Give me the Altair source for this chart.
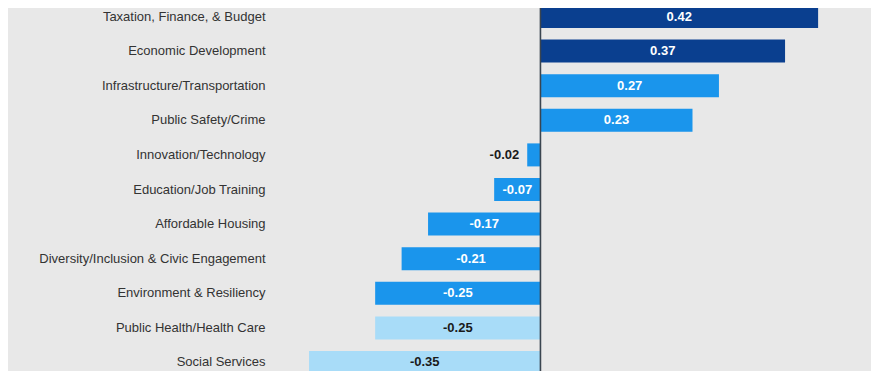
import altair as alt
import pandas as pd

categories = [
    "Taxation, Finance, & Budget",
    "Economic Development",
    "Infrastructure/Transportation",
    "Public Safety/Crime",
    "Innovation/Technology",
    "Education/Job Training",
    "Affordable Housing",
    "Diversity/Inclusion & Civic Engagement",
    "Environment & Resiliency",
    "Public Health/Health Care",
    "Social Services",
]
values = [0.42, 0.37, 0.27, 0.23, -0.02, -0.07, -0.17, -0.21, -0.25, -0.25, -0.35]
tiers = ["dark", "dark", "mid", "mid", "mid", "mid", "mid", "mid", "mid", "light", "light"]
labels = ["0.42", "0.37", "0.27", "0.23", "-0.02", "-0.07", "-0.17", "-0.21", "-0.25", "-0.25", "-0.35"]

df = pd.DataFrame({"category": categories, "value": values, "tier": tiers, "label": labels})

BG = "#e8e8e8"
FONT = "Liberation Sans"

y_enc = alt.Y(
    "category:N",
    sort=categories,
    scale=alt.Scale(range=[-3.0, 366.0], paddingInner=0.335, paddingOuter=0),
    axis=alt.Axis(
        title=None, ticks=False, domain=False, grid=False,
        labelFont=FONT, labelFontSize=13, labelColor="#333333",
        labelPadding=11, labelLimit=400,
    ),
)
x_scale = alt.Scale(domain=[-0.4, 0.5], nice=False, zero=False)

base = alt.Chart(df)

bars = base.mark_bar().encode(
    y=y_enc,
    x=alt.X("value:Q", scale=x_scale, axis=None),
    x2=alt.datum(0),
    color=alt.Color(
        "tier:N",
        scale=alt.Scale(domain=["dark", "mid", "light"], range=["#0a3f8f", "#1a95ec", "#a8dcf8"]),
        legend=None,
    ),
)

inside = base.transform_filter("abs(datum.value) >= 0.05").transform_calculate(
    mid="datum.value / 2"
).mark_text(font=FONT, fontSize=13, fontWeight="bold", align="center", baseline="middle").encode(
    y=alt.Y("category:N", sort=categories),
    x=alt.X("mid:Q", scale=x_scale),
    text="label:N",
    color=alt.Color(
        "tier:N",
        scale=alt.Scale(domain=["dark", "mid", "light"], range=["#ffffff", "#ffffff", "#1a1a1a"]),
        legend=None,
    ),
)

outside = base.transform_filter("abs(datum.value) < 0.05").mark_text(
    font=FONT, fontSize=13, fontWeight="bold", align="right", baseline="middle", dx=-8, color="#1a1a1a"
).encode(
    y=alt.Y("category:N", sort=categories),
    x=alt.X("value:Q", scale=x_scale),
    text="label:N",
)

zero = alt.Chart(pd.DataFrame({"z": [0]})).mark_rule(color="#3a4550", strokeWidth=1.6).encode(
    x=alt.X("z:Q", scale=x_scale)
)

chart = alt.layer(bars, zero, inside, outside).resolve_scale(color="independent").properties(
    width=595, height=363,
    autosize=alt.AutoSizeParams(type="none"),
    padding={"left": 268, "top": 0, "right": 0, "bottom": 0},
    background=BG,
).configure_view(stroke=None, fill=BG)

chart.save("out.html", embed_options={"renderer": "svg", "actions": False})
